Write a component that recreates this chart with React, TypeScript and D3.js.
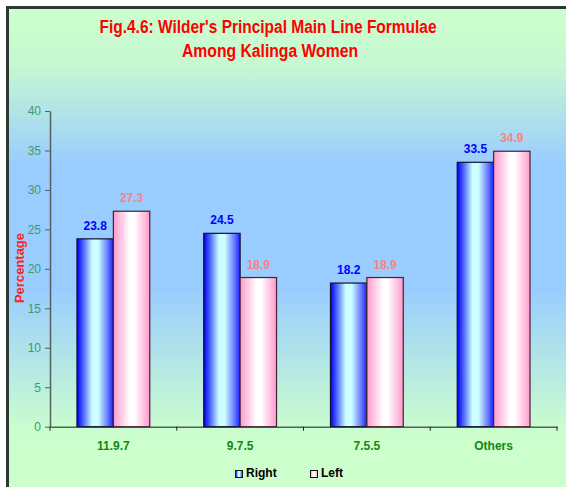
import React, { useEffect, useRef } from "react";
import * as d3 from "d3";

const categories = ["11.9.7", "9.7.5", "7.5.5", "Others"];
const seriesNames = ["Right", "Left"];
const rightValues = [23.8, 24.5, 18.2, 33.5];
const leftValues = [27.3, 18.9, 18.9, 34.9];
const yTicks = [0, 5, 10, 15, 20, 25, 30, 35, 40];
const titleLines = ["Fig.4.6: Wilder's Principal Main Line Formulae", "Among Kalinga Women"];

const W = 566;
const H = 487;
const PLOT = { left: 50, right: 557, top: 111, bottom: 426.7 };

export default function App() {
  const ref = useRef<SVGSVGElement>(null);

  useEffect(() => {
    const svg = d3.select(ref.current);
    svg.selectAll("*").remove();

    const defs = svg.append("defs");
    const bg = defs.append("linearGradient").attr("id", "bg").attr("x1", 0).attr("y1", 0).attr("x2", 0).attr("y2", 1);
    bg.append("stop").attr("offset", "0%").attr("stop-color", "#ccffcc");
    bg.append("stop").attr("offset", "12%").attr("stop-color", "#c6f8d2");
    bg.append("stop").attr("offset", "33%").attr("stop-color", "#99ccff");
    bg.append("stop").attr("offset", "58%").attr("stop-color", "#99ccff");
    bg.append("stop").attr("offset", "89%").attr("stop-color", "#ccffcc");
    bg.append("stop").attr("offset", "100%").attr("stop-color", "#ccffcc");

    const gb = defs.append("linearGradient").attr("id", "gBlue").attr("x1", 0).attr("y1", 0).attr("x2", 1).attr("y2", 0);
    gb.append("stop").attr("offset", "0%").attr("stop-color", "#0000ee");
    gb.append("stop").attr("offset", "12%").attr("stop-color", "#3344ff");
    gb.append("stop").attr("offset", "42%").attr("stop-color", "#ccffff");
    gb.append("stop").attr("offset", "58%").attr("stop-color", "#ccffff");
    gb.append("stop").attr("offset", "85%").attr("stop-color", "#6677ff");
    gb.append("stop").attr("offset", "100%").attr("stop-color", "#1122ff");

    const gp = defs.append("linearGradient").attr("id", "gPink").attr("x1", 0).attr("y1", 0).attr("x2", 1).attr("y2", 0);
    gp.append("stop").attr("offset", "0%").attr("stop-color", "#ff99cc");
    gp.append("stop").attr("offset", "45%").attr("stop-color", "#ffffff");
    gp.append("stop").attr("offset", "58%").attr("stop-color", "#ffffff");
    gp.append("stop").attr("offset", "100%").attr("stop-color", "#ff99cc");

    // background and frame
    svg.append("rect").attr("x", 0).attr("y", 0).attr("width", W).attr("height", H).attr("fill", "#ffffff");
    svg.append("rect").attr("x", 8).attr("y", 8).attr("width", W + 20).attr("height", H - 8)
      .attr("fill", "url(#bg)");
    svg.append("path").attr("d", `M7.5,${H + 5} V7.5 H${W + 5}`).attr("fill", "none")
      .attr("stroke", "#2e3833").attr("stroke-width", 3);

    // title
    const title = svg.append("text").attr("text-anchor", "middle")
      .attr("font-family", "'Liberation Sans Narrow', 'Arial Narrow', 'Liberation Sans', sans-serif")
      .attr("font-weight", "bold").attr("font-size", 18).attr("fill", "#ff0000");
    title.append("tspan").attr("x", 268).attr("y", 33).attr("textLength", 337)
      .attr("lengthAdjust", "spacingAndGlyphs").text(titleLines[0]);
    title.append("tspan").attr("x", 270).attr("y", 57).attr("textLength", 176)
      .attr("lengthAdjust", "spacingAndGlyphs").text(titleLines[1]);

    const y = d3.scaleLinear().domain([0, 40]).range([PLOT.bottom, PLOT.top]);
    const x = d3.scaleBand<string>().domain(categories).range([PLOT.left, PLOT.right]).paddingInner(0).paddingOuter(0);
    const xs = d3.scaleBand<string>().domain(seriesNames).range([0, x.bandwidth()]).paddingInner(0).paddingOuter(0.741);

    // y axis
    const yAxis = svg.append("g").attr("transform", `translate(${PLOT.left},0)`)
      .call(d3.axisLeft(y).tickValues(yTicks).tickSize(5).tickPadding(4).tickSizeOuter(0));
    yAxis.select(".domain").attr("stroke", "#55605a").attr("stroke-width", 1.5);
    yAxis.selectAll(".tick line").attr("stroke", "#55605a");
    yAxis.selectAll(".tick text").attr("fill", "#3d9b6b").attr("font-size", 12)
      .attr("font-family", "'Liberation Sans', Arial, sans-serif");

    // x axis
    const xAxis = svg.append("g").attr("transform", `translate(0,${PLOT.bottom})`)
      .call(d3.axisBottom(x).tickSize(0).tickPadding(15).tickSizeOuter(0));
    xAxis.select(".domain").attr("stroke", "#55605a").attr("stroke-width", 1.5);
    xAxis.selectAll(".tick text").attr("fill", "#118811").attr("font-size", 12).attr("font-weight", "bold")
      .attr("font-family", "'Liberation Sans', Arial, sans-serif");
    const bounds = categories.map((c) => x(c) as number).concat([PLOT.right]);
    svg.append("g").selectAll("line").data(bounds).join("line")
      .attr("x1", (d) => d).attr("x2", (d) => d).attr("y1", PLOT.bottom).attr("y2", PLOT.bottom + 4)
      .attr("stroke", "#222").attr("stroke-width", 1);

    // bars
    const series = [
      { name: "Right", values: rightValues, fill: "url(#gBlue)", stroke: "#111133", label: "#0000ff" },
      { name: "Left", values: leftValues, fill: "url(#gPink)", stroke: "#442233", label: "#ff8080" },
    ];
    series.forEach((s) => {
      const g = svg.append("g");
      g.selectAll("rect").data(s.values).join("rect")
        .attr("x", (_d, i) => (x(categories[i]) as number) + (xs(s.name) as number))
        .attr("y", (d) => y(d))
        .attr("width", xs.bandwidth())
        .attr("height", (d) => y(0) - y(d))
        .attr("fill", s.fill).attr("stroke", s.stroke).attr("stroke-width", 1.2);
      g.selectAll("text").data(s.values).join("text")
        .attr("x", (_d, i) => (x(categories[i]) as number) + (xs(s.name) as number) + xs.bandwidth() / 2)
        .attr("y", (d) => y(d) - 9)
        .attr("text-anchor", "middle").attr("font-size", 12).attr("font-weight", "bold")
        .attr("font-family", "'Liberation Sans', Arial, sans-serif")
        .attr("fill", s.label).text((d) => d.toFixed(1));
    });

    // y axis title
    svg.append("text").attr("transform", "translate(23.5,268) rotate(-90)")
      .attr("text-anchor", "middle").attr("font-size", 13).attr("font-weight", "bold")
      .attr("font-family", "'Liberation Sans', Arial, sans-serif").attr("fill", "#ff2222").text("Percentage");

    // legend
    const legend = svg.append("g");
    const legendX = [235.5, 310.5];
    series.forEach((s, i) => {
      legend.append("rect").attr("x", legendX[i]).attr("y", 470.5).attr("width", 7).attr("height", 7)
        .attr("fill", s.fill).attr("stroke", "#111").attr("stroke-width", 1);
      legend.append("text").attr("x", legendX[i] + 10.5).attr("y", 477).attr("font-size", 12)
        .attr("font-weight", "bold").attr("font-family", "'Liberation Sans', Arial, sans-serif")
        .attr("fill", "#000").text(s.name);
    });
  }, []);

  return (
    <svg ref={ref} width={W} height={H} style={{ position: "absolute", left: 0, top: 0 }} />
  );
}
